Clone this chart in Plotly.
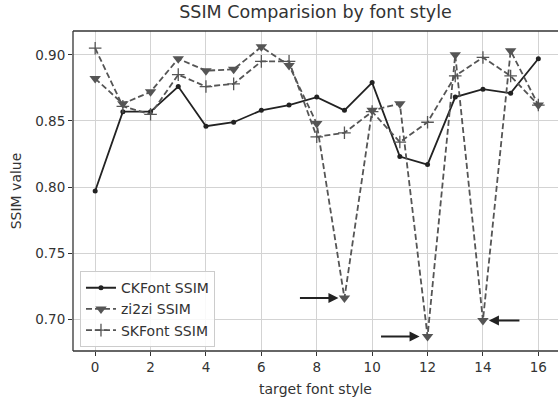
import plotly.graph_objects as go

styles = list(range(17))
ckfont = [0.797, 0.857, 0.857, 0.876, 0.846, 0.849, 0.858, 0.862, 0.868, 0.858,
          0.879, 0.823, 0.817, 0.868, 0.874, 0.871, 0.897]
zi2zi = [0.882, 0.863, 0.872, 0.897, 0.888, 0.889, 0.906, 0.892, 0.848, 0.716,
         0.858, 0.863, 0.687, 0.900, 0.699, 0.903, 0.862]
skfont = [0.905, 0.861, 0.855, 0.885, 0.876, 0.878, 0.895, 0.895, 0.838, 0.841,
          0.857, 0.834, 0.849, 0.884, 0.898, 0.884, 0.862]
y_ticks = [0.70, 0.75, 0.80, 0.85, 0.90]
x_ticks = [0, 2, 4, 6, 8, 10, 12, 14, 16]
highlight = [(9, 0.716, -46, 0, 6), (12, 0.687, -48, 0, 8), (14, 0.699, 38, 0, 6)]

font = "DejaVu Sans"
dark = "#222222"
grey = "#555555"
txt = "#333333"

fig = go.Figure()
fig.add_trace(go.Scatter(x=styles, y=ckfont, name="CKFont SSIM", mode="lines+markers",
                         line=dict(color=dark, width=1.8),
                         marker=dict(symbol="circle", size=5, color=dark)))
fig.add_trace(go.Scatter(x=styles, y=zi2zi, name="zi2zi SSIM", mode="lines+markers",
                         line=dict(color=grey, width=1.8, dash="6px,3px"),
                         marker=dict(symbol="triangle-down", size=10, color=grey)))
fig.add_trace(go.Scatter(x=styles, y=skfont, name="SKFont SSIM", mode="lines+markers",
                         line=dict(color=grey, width=1.8, dash="6px,3px"),
                         marker=dict(symbol="cross-thin", size=9, color=grey,
                                     line=dict(width=1.3, color=grey))))

for hx, hy, dx, dy, so in highlight:
    fig.add_annotation(x=hx, y=hy, ax=dx, ay=dy, xref="x", yref="y",
                       text="", showarrow=True, arrowhead=2, arrowsize=1,
                       arrowwidth=2, arrowcolor=dark, standoff=so)

fig.update_layout(
    width=558, height=402,
    margin=dict(l=73, r=0, t=31, b=51),
    paper_bgcolor="white", plot_bgcolor="white",
    font=dict(family=font, size=13.5, color=txt),
    title=dict(text="SSIM Comparision by font style", x=0.5, xref="paper",
               xanchor="center", y=0.97, yanchor="middle",
               font=dict(size=17.5, color=txt)),
    xaxis=dict(range=[-0.8, 16.71], tickvals=x_ticks, ticks="outside", ticklen=4,
               tickcolor=txt, showgrid=True, gridcolor="#d3d3d3", gridwidth=1,
               zeroline=False, showline=False, automargin=False,
               tickfont=dict(size=13.5),
               title=dict(text="target font style", font=dict(size=14), standoff=9)),
    yaxis=dict(range=[0.676, 0.918], tickvals=y_ticks, tickformat=".2f",
               ticks="outside", ticklen=4, tickcolor=txt,
               showgrid=True, gridcolor="#d3d3d3", gridwidth=1,
               zeroline=False, showline=False, automargin=False,
               tickfont=dict(size=13.5),
               title=dict(text="SSIM value", font=dict(size=14), standoff=10)),
    legend=dict(x=0.0144, y=0.012, xanchor="left", yanchor="bottom",
                bgcolor="rgba(255,255,255,0.85)", bordercolor="#cccccc", borderwidth=1,
                font=dict(size=14, color=txt), tracegroupgap=0,
                itemwidth=30),
    showlegend=True,
)

# spines: left, bottom, top (right edge cropped in reference)
for x0, y0, x1, y1 in [(0, 0, 0, 1), (0, 0, 1, 0), (0, 1, 1, 1)]:
    fig.add_shape(type="line", xref="paper", yref="paper", x0=x0, y0=y0, x1=x1, y1=y1,
                  line=dict(color=txt, width=1.3), layer="above")

fig.write_html("out.html", config={"displayModeBar": False},
               post_script="document.body.style.margin='0';")
